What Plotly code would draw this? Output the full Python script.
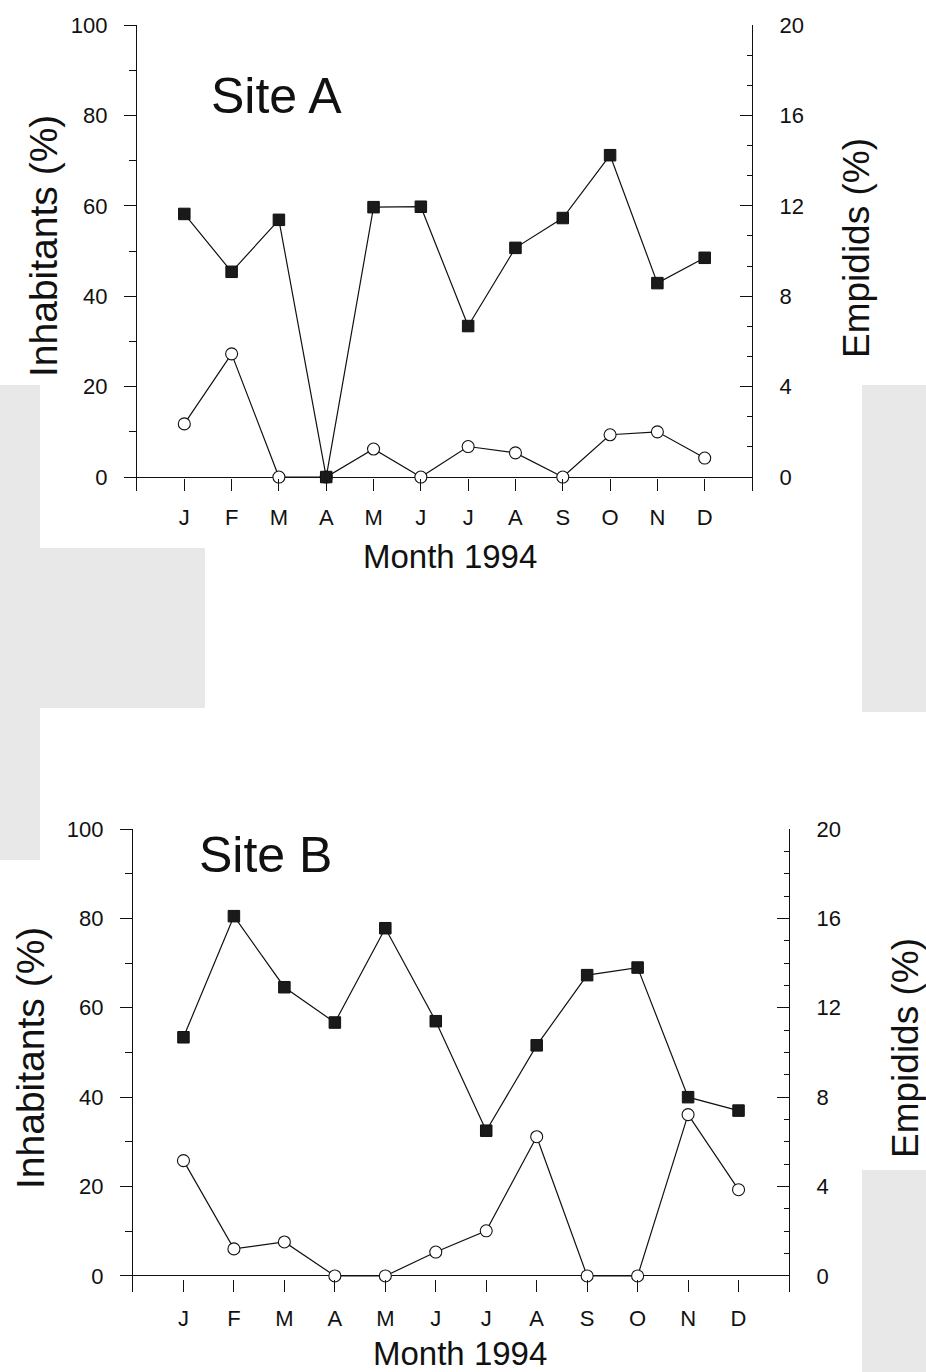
import plotly.graph_objects as go

months = ["J", "F", "M", "A", "M", "J", "J", "A", "S", "O", "N", "D"]
month_pos = list(range(1, 13))

# Site A
a_inhabitants = [58.2, 45.4, 56.9, 0.0, 59.7, 59.8, 33.4, 50.7, 57.3, 71.2, 42.9, 48.5]
a_empidids = [2.35, 5.45, 0.0, 0.0, 1.24, 0.0, 1.35, 1.07, 0.0, 1.87, 2.0, 0.84]

# Site B
b_inhabitants = [53.4, 80.5, 64.6, 56.7, 77.8, 57.0, 32.5, 51.6, 67.3, 69.0, 40.0, 37.0]
b_empidids = [5.16, 1.21, 1.52, 0.0, 0.0, 1.07, 2.02, 6.23, 0.0, 0.0, 7.22, 3.86]

left_ticks = [0, 20, 40, 60, 80, 100]
right_ticks = [0, 4, 8, 12, 16, 20]

FONT = "Liberation Sans, Arial, sans-serif"
W, H = 926, 1372

fig = go.Figure()

line = dict(color="#111111", width=1.2)
circ = dict(symbol="circle", size=12, color="white", line=dict(color="#111111", width=1.1))
sq = dict(symbol="square", size=11.5, color="#1a1a1a", line=dict(color="#111111", width=1))

# top panel
fig.add_trace(go.Scatter(x=month_pos, y=a_empidids, mode="lines+markers", line=line, marker=circ,
                         xaxis="x", yaxis="y", cliponaxis=False))
fig.add_trace(go.Scatter(x=month_pos, y=a_inhabitants, mode="lines+markers", line=line, marker=sq,
                         xaxis="x", yaxis="y2", cliponaxis=False))
# bottom panel
fig.add_trace(go.Scatter(x=month_pos, y=b_empidids, mode="lines+markers", line=line, marker=circ,
                         xaxis="x2", yaxis="y3", cliponaxis=False))
fig.add_trace(go.Scatter(x=month_pos, y=b_inhabitants, mode="lines+markers", line=line, marker=sq,
                         xaxis="x2", yaxis="y4", cliponaxis=False))

tickfont = dict(family=FONT, size=22, color="#111111")

def xax(domain, anchor):
    return dict(domain=domain, anchor=anchor, range=[0, 13], tickvals=month_pos, ticktext=months,
                showline=False, showgrid=False, zeroline=False, ticks="inside", ticklen=12,
                tickwidth=1, tickcolor="#111111", tickfont=tickfont, ticklabelstandoff=11,
                fixedrange=True, automargin=False)

def right_ax(domain, anchor, rng, minor_dtick):
    return dict(domain=domain, anchor=anchor, side="right", range=rng, tickvals=right_ticks,
                showline=True, linecolor="#111111", linewidth=1.2, showgrid=False,
                zeroline=True, zerolinecolor="#111111", zerolinewidth=1.3,
                ticks="inside", ticklen=12, tickwidth=1, tickcolor="#111111",
                minor=dict(ticks="inside", ticklen=5, tickwidth=1, tickcolor="#111111",
                           dtick=minor_dtick, tick0=0, showgrid=False),
                tickfont=tickfont, ticklabelstandoff=22, automargin=False, fixedrange=True)

def left_ax(overlay, anchor, rng):
    return dict(overlaying=overlay, anchor=anchor, side="left", range=rng, tickvals=left_ticks,
                showline=True, linecolor="#111111", linewidth=1.2, showgrid=False, zeroline=False,
                ticks="outside", ticklen=12, tickwidth=1, tickcolor="#111111",
                minor=dict(ticks="outside", ticklen=7, tickwidth=1, tickcolor="#111111",
                           dtick=10, tick0=0, showgrid=False),
                tickfont=tickfont, ticklabelstandoff=12, automargin=False, fixedrange=True)

top_x = [137 / W, 752 / W]
top_y = [1 - 490.6 / H, 1 - 25 / H]
bot_x = [133 / W, 789 / W]
bot_y = [1 - 1291.6 / H, 1 - 829 / H]

fig.update_layout(
    width=W, height=H, margin=dict(l=0, r=0, t=0, b=0, pad=0, autoexpand=False),
    paper_bgcolor="white", plot_bgcolor="rgba(0,0,0,0)", showlegend=False,
    font=dict(family=FONT, color="#111111"),
    xaxis=xax(top_x, "y"),
    yaxis=right_ax(top_y, "x", [-0.6, 20], 4 / 3),
    yaxis2=left_ax("y", "x", [-3, 100]),
    xaxis2=xax(bot_x, "y3"),
    yaxis3=right_ax(bot_y, "x2", [-0.7, 20], 1),
    yaxis4=left_ax("y3", "x2", [-3.5, 100]),
)

# light gray scan patches in the background
patches = [
    (0, 385, 40, 860),
    (40, 548, 205, 708),
    (862, 385, 926, 712),
    (862, 1170, 926, 1372),
]
for x0, y0, x1, y1 in patches:
    fig.add_shape(type="rect", xref="paper", yref="paper", layer="below",
                  x0=x0 / W, x1=x1 / W, y0=1 - y1 / H, y1=1 - y0 / H,
                  fillcolor="#e8e8e8", line=dict(width=0))

def ann(text, px, py, size, angle=0):
    fig.add_annotation(text=text, x=px / W, y=1 - py / H, xref="paper", yref="paper",
                       showarrow=False, xanchor="center", yanchor="middle", textangle=angle,
                       font=dict(family=FONT, size=size, color="#111111"))

ann("Site A", 276, 96, 50)
ann("Site B", 265, 855, 50)
ann("Month 1994", 450, 556, 33)
ann("Month 1994", 460, 1353, 33)
ann("Inhabitants (%)", 43, 246, 39, -90)
ann("Inhabitants (%)", 30, 1058, 39, -90)
ann("Empidids (%)", 856, 248, 37, -90)
ann("Empidids (%)", 905, 1048, 37, -90)

post = ("document.documentElement.style.margin='0';document.body.style.margin='0';"
        "document.body.style.overflow='hidden';"
        "var gd=document.getElementById('{plot_id}');"
        "gd.style.position='absolute';gd.style.left='0px';gd.style.top='0px';")

fig.write_html("out.html", post_script=post, config={"displayModeBar": False})
